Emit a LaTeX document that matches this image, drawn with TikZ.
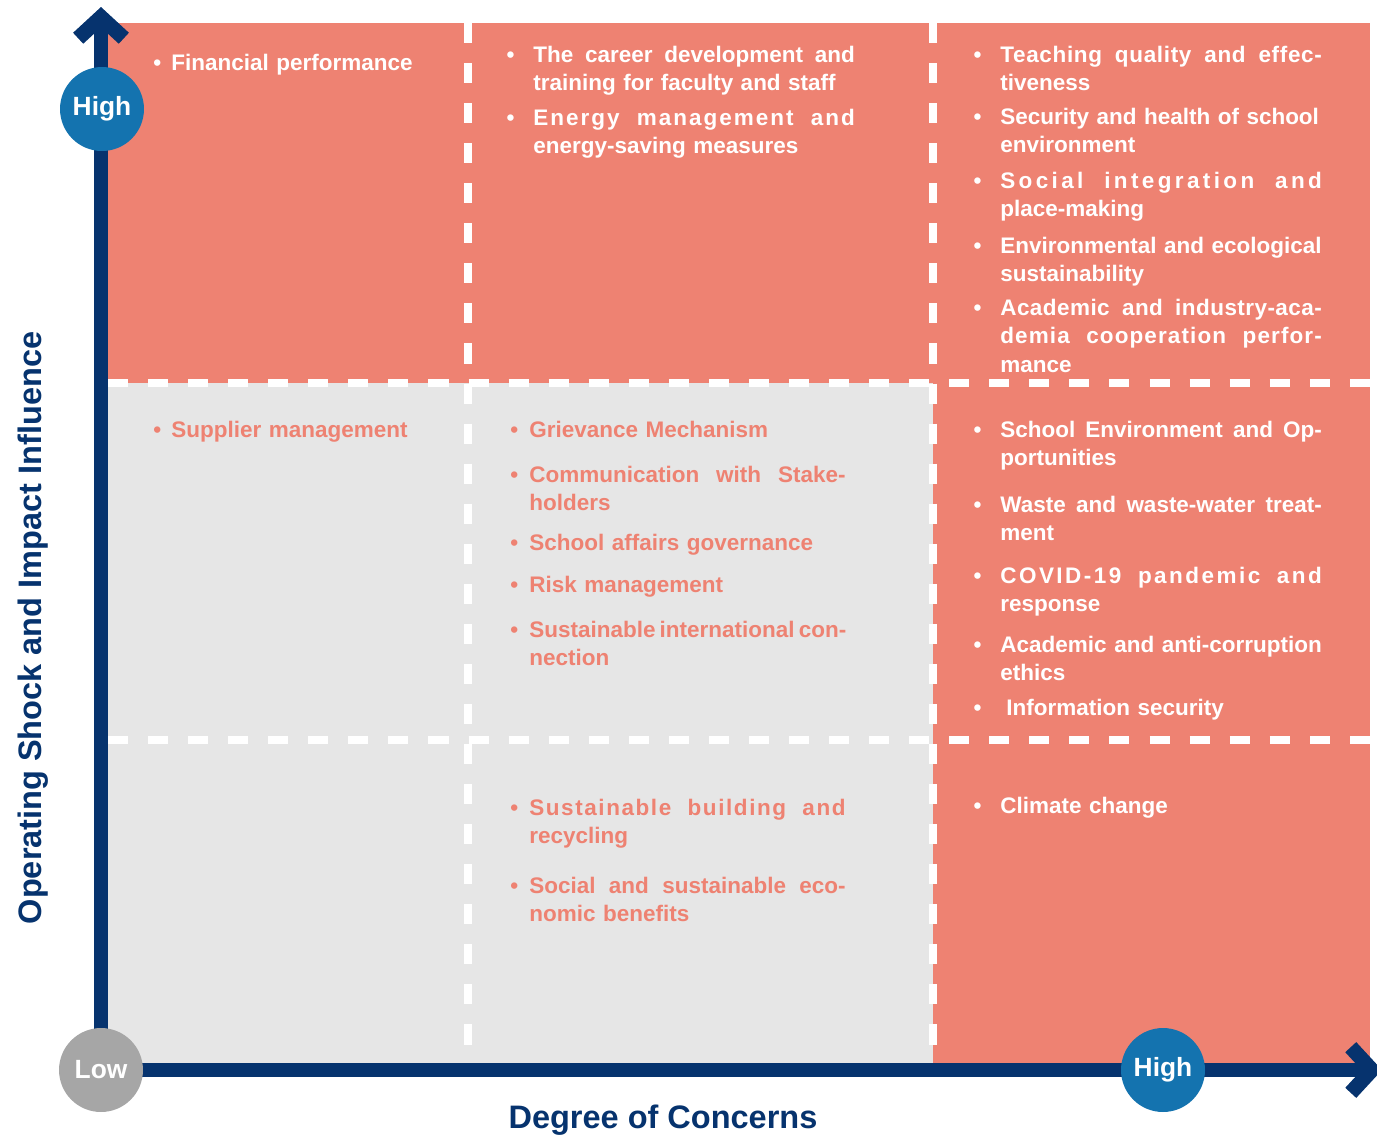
\documentclass[tikz,border=0pt]{standalone}
\usepackage{fontspec}
\setmainfont{Liberation Sans}
\usetikzlibrary{arrows.meta}
\definecolor{salmon}{HTML}{EE8272}
\definecolor{lightgrey}{HTML}{E6E6E6}
\definecolor{navy}{HTML}{06336E}
\definecolor{dotblue}{HTML}{1473AF}
\definecolor{dotgrey}{HTML}{A6A6A6}
\newcommand{\fl}[2][0]{\makebox[\hsize][s]{\addfontfeature{LetterSpace=#1}\spaceskip=0pt\xspaceskip=0pt #2}}
\newcommand{\bl}[1]{\llap{\textbullet\hspace{#1}}}

\begin{document}
\begin{tikzpicture}[x=0.02cm,y=-0.02cm,
  item/.style={anchor=base west,inner sep=0pt,align=left,font=\bfseries\fontsize{12.8}{16.3}\selectfont},
  hi/.style={item,text=white},
  lo/.style={item,text=salmon},
  wide/.style={text width=183pt},
  mid/.style={text width=180pt},
  divider/.style={white,line width=4pt,dash pattern=on 11.4pt off 11.4pt},
  axis/.style={navy,line width=8.5pt,-{Straight Barb[length=12pt,width=26pt]}},
  level/.style={circle,minimum size=47.8pt,inner sep=0pt,text=white,font=\bfseries\fontsize{15}{18}\selectfont},
  axislabel/.style={text=navy,font=\bfseries\fontsize{18.5}{22}\selectfont}]
\useasboundingbox (0,0) rectangle (1377,1137);

\fill[salmon] (101,23) rectangle (1370,383);
\fill[lightgrey] (101,383) rectangle (933,1070);
\fill[salmon] (933,383) rectangle (1370,1070);

\draw[divider] (468,23) -- (468,1063);
\draw[divider] (933,23) -- (933,1063);
\draw[divider] (108,383) -- (1370,383);
\draw[divider] (108,740) -- (1370,740);

\coordinate (o) at (101,1070);
\coordinate (ytip) at (101,7);
\coordinate (xtip) at (1382,1070);
\draw[axis] (o) -- (ytip);
\draw[axis] (o) -- (xtip);

\node[level,fill=dotblue] (yhigh) at (102,109) {High};
\node[level,fill=dotgrey] (low) at (o) {Low};
\node[level,fill=dotblue] (xhigh) at (1163,1070) {High};

\node[axislabel,rotate=90,anchor=base] (ylab) at (41,628) {Operating Shock and Impact Influence};
\node[axislabel,anchor=base] (xlab) at (663,1128) {Degree of Concerns};

\node[hi,text width=170pt] (finance) at (171,70) {\bl{5.7pt}Financial performance};
\node[hi,wide] (career) at (533,62) {\bl{10.8pt}\fl{The career development and}\\training for faculty and staff};
\node[hi,wide] (energy) at (533,125) {\bl{10.8pt}\fl[9]{Energy management and}\\energy-saving measures};
\node[hi,wide] (teaching) at (1000,62) {\bl{10.8pt}\fl[3]{Teaching quality and effec-}\\tiveness};
\node[hi,wide] (security) at (1000,124) {\bl{10.8pt}Security and health of school\\environment};
\node[hi,wide] (social) at (1000,188) {\bl{10.8pt}\fl[15]{Social integration and}\\place-making};
\node[hi,wide] (ecology) at (1000,253) {\bl{10.8pt}Environmental and ecological\\sustainability};
\node[hi,wide] (academia) at (1000,315) {\bl{10.8pt}\fl[2]{Academic and industry-aca-}\\\fl[5]{demia cooperation perfor-}\\mance};

\node[lo,text width=170pt] (supplier) at (171,437) {\bl{5.7pt}Supplier management};
\node[lo,mid] (grievance) at (529,437) {\bl{6.3pt}Grievance Mechanism};
\node[lo,mid] (stakeholders) at (529,482) {\bl{6.3pt}\fl{Communication with Stake-}\\holders};
\node[lo,mid] (governance) at (529,550) {\bl{6.3pt}School affairs governance};
\node[lo,mid] (risk) at (529,592) {\bl{6.3pt}Risk management};
\node[lo,mid] (connection) at (529,637) {\bl{6.3pt}\fl{Sustainable international con-}\\nection};
\node[hi,wide] (opportunities) at (1000,437) {\bl{10.8pt}\fl{School Environment and Op-}\\portunities};
\node[hi,wide] (waste) at (1000,512) {\bl{10.8pt}\fl{Waste and waste-water treat-}\\ment};
\node[hi,wide] (covid) at (1000,583) {\bl{10.8pt}\fl[11]{COVID-19 pandemic and}\\response};
\node[hi,wide] (ethics) at (1000,652) {\bl{10.8pt}\fl{Academic and anti-corruption}\\ethics};
\node[hi,wide] (infosec) at (1006,715) {\bl{14.2pt}Information security};

\node[lo,mid] (building) at (529,815) {\bl{6.3pt}\fl[7]{Sustainable building and}\\recycling};
\node[lo,mid] (benefits) at (529,893) {\bl{6.3pt}\fl{Social and sustainable eco-}\\nomic benefits};
\node[hi,wide] (climate) at (1000,813) {\bl{10.8pt}Climate change};
\end{tikzpicture}
\end{document}
